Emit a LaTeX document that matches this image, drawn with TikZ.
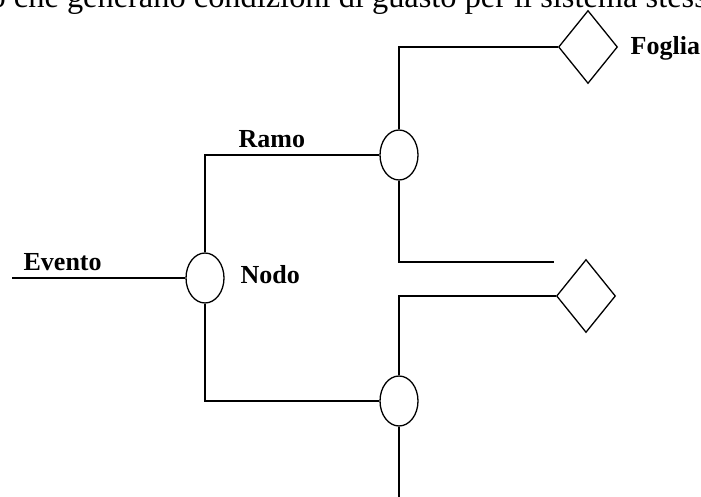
\documentclass[tikz,border=0pt]{standalone}
\usepackage{fontspec}
\setmainfont{Liberation Serif}
\usetikzlibrary{shapes.geometric}
\begin{document}
\begin{tikzpicture}[x=1pt,y=-1pt,line width=1.3pt,
  evnode/.style={draw,ellipse,inner sep=0pt,minimum width=38pt,minimum height=50pt},
  leafnode/.style={draw,diamond,inner sep=0pt,minimum width=59pt,minimum height=73pt},
  lbl/.style={inner sep=0pt,anchor=base west,font=\fontsize{26}{30}\selectfont\bfseries},
  conn/.style={line width=1.3pt}]
\clip (0,0) rectangle (701,497);
\node[inner sep=0pt,anchor=base west,font=\fontsize{32.4}{36}\selectfont] (top) at (-11,7.5) {o che generano condizioni di guasto per il sistema stesso};
\node[evnode] (nodo) at (205,278) {};
\node[evnode] (c1) at (399,155) {};
\node[evnode] (c3) at (399,401) {};
\node[leafnode] (d1) at (588,47) {};
\node[leafnode] (d2) at (586,296) {};
\coordinate (ev) at (12,278);
\coordinate (e1) at (554,262);
\coordinate (e2) at (399,505);
\draw[conn] (ev) -- (nodo.west);
\draw[conn] (nodo.north) |- (c1.west);
\draw[conn] (nodo.south) |- (c3.west);
\draw[conn] (c1.north) |- (d1.west);
\draw[conn] (c1.south) |- (e1);
\draw[conn] (c3.north) |- (d2.west);
\draw[conn] (c3.south) -- (e2);
\node[lbl] (evento) at (23,270) {Evento};
\node[lbl] (nodolbl) at (240,283) {Nodo};
\node[lbl] (ramo) at (238,148) {Ramo};
\node[lbl] (foglia) at (630,55) {Foglia};
\end{tikzpicture}
\end{document}
